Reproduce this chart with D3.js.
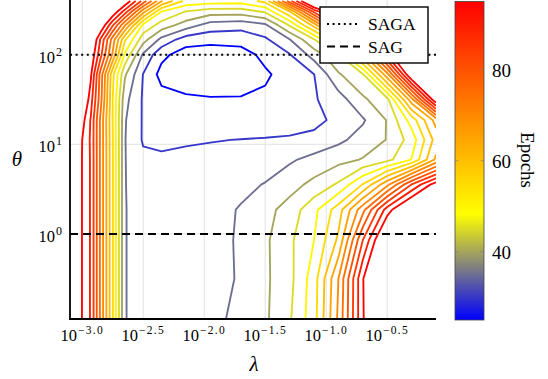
<!DOCTYPE html>
<html>
<head>
<meta charset="utf-8">
<script src="https://cdn.jsdelivr.net/npm/d3@7"></script>
<style>
  body { margin: 0; background: #fff; }
  svg { display: block; }
  text { font-family: "Liberation Serif", "DejaVu Serif", serif; fill: #000; }
</style>
</head>
<body>
<svg id="chart" width="548" height="379"></svg>
<script>
// grid of the run: log10(lambda) columns, log10(theta) rows (top row = largest theta)
const lambdaExp = [-3.1, -3.0, -2.93, -2.85, -2.75, -2.65, -2.5, -2.35, -2.15, -1.95, -1.7, -1.5, -1.3, -1.1, -0.9, -0.7, -0.5, -0.3, -0.1];
const thetaExp = [2.6, 2.48, 2.33, 2.17, 2.0, 1.78, 1.5, 1.27, 1.05, 0.83, 0.55, 0.27, -0.07, -0.5, -0.95];

// epochs needed, one row per theta value
const epochs = [
  [150, 135, 125, 115, 107, 100, 83, 65.5, 53.5, 52.5, 52, 56.5, 83, 108, 122, 134, 145, 155, 165],
  [135, 118, 110, 104, 99.5, 87.5, 66.7, 49.7, 44.7, 42.3, 42.3, 45.6, 59.3, 85.9, 104, 117, 129, 139, 150],
  [125, 116, 110, 100.5, 85.6, 70.4, 48.8, 42.9, 37.7, 32.8, 31.8, 34, 45.5, 61.8, 87.3, 108, 123, 136, 147],
  [128, 113, 103, 89.5, 72.6, 55.8, 42.1, 33.6, 27.5, 26.7, 26.9, 29.2, 34.8, 44.7, 61, 89.7, 110, 124, 136],
  [125, 110, 99.5, 86.7, 69.2, 49.1, 34.2, 26.3, 22.5, 21.8, 22.8, 26.4, 29.7, 37.1, 44.6, 64.2, 91.6, 112, 128],
  [125, 107, 96, 78.1, 56.3, 40.7, 29.8, 23.3, 21.3, 20.8, 21.5, 24.2, 27.3, 29.9, 39.4, 44.5, 68.3, 102, 118],
  [118, 102, 92.3, 77, 55, 36.6, 29.4, 27, 26, 25.5, 25.5, 26, 27.5, 29.5, 32.7, 39.1, 43.5, 68, 100],
  [108, 97, 89.6, 74, 54.8, 35.4, 29.5, 28, 27.5, 27, 27, 27.5, 27.8, 28.5, 31.4, 34.4, 40.3, 52.2, 67],
  [106, 95, 89.3, 74, 55.2, 35.2, 29.5, 29, 29.5, 29.8, 30.1, 30.3, 30.6, 31.5, 33.9, 37, 40.2, 47.2, 62],
  [105, 94.8, 89.5, 74, 55.3, 35.2, 31, 30.7, 31, 31.2, 31.8, 33, 34.3, 36.5, 38.4, 40.3, 43.4, 50.2, 66],
  [105, 94.8, 89.5, 74, 55.3, 35.2, 32, 32, 32.5, 33, 34, 35.2, 38.1, 41.4, 45.8, 55.3, 68.8, 85.3, 98],
  [105, 94.8, 89.5, 74, 55.3, 35.2, 33, 33, 33.3, 33.5, 35.3, 38.4, 42, 48.6, 57.6, 73.3, 92.5, 105, 112],
  [105, 94.8, 89.5, 74, 55.3, 35.2, 33, 33, 33.3, 33.5, 35.5, 39.1, 44, 50, 61, 85, 105, 112, 118],
  [105, 94.8, 89.5, 74, 55.3, 35.2, 33, 33, 33.3, 33.5, 35.4, 39.1, 43.5, 52.6, 70, 94.7, 108, 116, 122],
  [105, 94.8, 89.5, 74, 55.3, 35.2, 33, 33, 33, 33.2, 36.7, 39.2, 44.4, 53, 71, 94.5, 108, 116, 122]
];

const levels = [25, 30, 35, 40, 45, 50, 55, 60, 65, 70, 75, 80, 85, 90, 95];
const epochRange = [25, 95];
const xTickExp = [-3.0, -2.5, -2.0, -1.5, -1.0, -0.5];
const yTickExp = [0, 1, 2];
const cbTicks = [40, 60, 80];
const refNames = ["SAGA", "SAG"];
const refTheta = [100, 1];

const svg = d3.select("#chart");
const L = 70, R = 436, T = 1, B = 319;

const x = d3.scaleLog().domain([10 ** -3.1, 10 ** -0.1]).range([L, R]);
const y = d3.scaleLog().domain([10 ** -0.95, 10 ** 2.6]).range([B, T]);

// blue -> gray -> yellow -> red
const color = d3.scaleLinear()
  .domain([25, 36.67, 48.33, 95])
  .range(["#0000ff", "#808080", "#ffff00", "#ff0000"]);

svg.append("defs").append("clipPath").attr("id", "plotclip")
  .append("rect").attr("x", L).attr("y", 0).attr("width", R - L).attr("height", B);

// grid
const grid = svg.append("g").attr("stroke", "#dcdcdc").attr("stroke-width", 0.8);
grid.selectAll(".vg").data(xTickExp).join("line")
  .attr("x1", d => x(10 ** d)).attr("x2", d => x(10 ** d))
  .attr("y1", 0).attr("y2", B);
grid.selectAll(".hg").data(yTickExp).join("line")
  .attr("x1", L).attr("x2", R)
  .attr("y1", d => y(10 ** d)).attr("y2", d => y(10 ** d));

// contour lines
const nx = lambdaExp.length, ny = thetaExp.length;
const gx = d3.scaleLinear().domain(lambdaExp.map((_, i) => i + 0.5)).range(lambdaExp);
const gy = d3.scaleLinear().domain(thetaExp.map((_, i) => i + 0.5)).range(thetaExp);
const toPx = p => [x(10 ** gx(p[0])), y(10 ** gy(p[1]))];

function inside(p) {
  const e = 1e-9;
  return p[0] >= 0.5 - e && p[0] <= nx - 0.5 + e && p[1] >= 0.5 - e && p[1] <= ny - 0.5 + e;
}

// d3.contours closes rings along the grid border, drop those parts
function splitRing(ring) {
  const parts = [];
  let cur = null;
  for (let k = 1; k < ring.length; k++) {
    const a = ring[k - 1], b = ring[k];
    if (inside(a) && inside(b)) {
      if (!cur) { cur = [a]; parts.push(cur); }
      cur.push(b);
    } else {
      cur = null;
    }
  }
  if (parts.length > 1 && parts[0][0] === ring[0]) {
    const last = parts[parts.length - 1];
    if (last[last.length - 1] === ring[ring.length - 1]) {
      parts[0] = last.concat(parts[0].slice(1));
      parts.pop();
    }
  }
  return parts;
}

const contours = d3.contours().size([nx, ny]).thresholds(levels)(epochs.flat());
const line = d3.line();
const cg = svg.append("g").attr("clip-path", "url(#plotclip)")
  .attr("fill", "none").attr("stroke-width", 1.85).attr("stroke-linejoin", "round");

contours.forEach(c => {
  c.coordinates.forEach(poly => poly.forEach(ring => {
    splitRing(ring).forEach(part => {
      cg.append("path")
        .attr("d", line(part.map(toPx)))
        .attr("stroke", color(c.value));
    });
  }));
});

// SAGA / SAG reference lines
const dashes = ["2 3.6", "8 5"];
svg.append("g").selectAll("line").data(refTheta).join("line")
  .attr("x1", L).attr("x2", R)
  .attr("y1", d => y(d)).attr("y2", d => y(d))
  .attr("stroke", "#000").attr("stroke-width", 2)
  .attr("stroke-dasharray", (d, i) => dashes[i]);

// axes lines
svg.append("line").attr("x1", L).attr("x2", L).attr("y1", 0).attr("y2", B + 1)
  .attr("stroke", "#000").attr("stroke-width", 1.8);
svg.append("line").attr("x1", L - 0.9).attr("x2", R).attr("y1", B).attr("y2", B)
  .attr("stroke", "#000").attr("stroke-width", 1.8);

// tick labels
const xt = svg.append("g").selectAll("text").data(xTickExp).join("text")
  .attr("x", d => x(10 ** d)).attr("y", 341)
  .attr("text-anchor", "middle").attr("font-size", 16.5);
xt.append("tspan").text("10");
xt.append("tspan").attr("dx", 1).attr("dy", -7).attr("font-size", 11.5)
  .attr("letter-spacing", 1.3)
  .text(d => "\u2212" + Math.abs(d).toFixed(1));

const yt = svg.append("g").selectAll("text").data(yTickExp).join("text")
  .attr("x", 62).attr("y", d => y(10 ** d) + 8)
  .attr("text-anchor", "end").attr("font-size", 16.5);
yt.append("tspan").text("10");
yt.append("tspan").attr("dx", 1).attr("dy", -7).attr("font-size", 12).text(d => d);

// axis labels
svg.append("text").attr("x", 254).attr("y", 371).attr("text-anchor", "middle")
  .attr("font-size", 21).attr("font-style", "italic").text("\u03bb");
svg.append("text").attr("x", 17).attr("y", 166)
  .attr("text-anchor", "middle").attr("font-size", 21).attr("font-style", "italic").text("\u03b8");

// legend
const lg = svg.append("g");
lg.append("rect").attr("x", 320).attr("y", 7).attr("width", 108).attr("height", 56)
  .attr("fill", "#fff").attr("stroke", "#000").attr("stroke-width", 1.4);
refNames.forEach((name, i) => {
  const yy = 24 + i * 22.5;
  lg.append("line").attr("x1", 327).attr("x2", 360).attr("y1", yy).attr("y2", yy)
    .attr("stroke", "#000").attr("stroke-width", 2).attr("stroke-dasharray", dashes[i]);
  lg.append("text").attr("x", 368).attr("y", yy + 6).attr("font-size", 17.5).text(name);
});

// colorbar
const cbX = 455, cbW = 29, cbTop = 1.5, cbBottom = 320;
const cb = d3.scaleLinear().domain(epochRange).range([cbBottom, cbTop]);
const grad = svg.select("defs").append("linearGradient").attr("id", "cbgrad")
  .attr("x1", 0).attr("y1", 1).attr("x2", 0).attr("y2", 0);
grad.selectAll("stop").data(color.domain()).join("stop")
  .attr("offset", d => (d - epochRange[0]) / (epochRange[1] - epochRange[0]))
  .attr("stop-color", d => color(d));
svg.append("rect").attr("x", cbX).attr("y", cbTop).attr("width", cbW).attr("height", cbBottom - cbTop)
  .attr("fill", "url(#cbgrad)").attr("stroke", "#444").attr("stroke-width", 0.8);
const cbt = svg.append("g").attr("stroke", "#777").attr("stroke-width", 0.6);
cbTicks.forEach(v => {
  cbt.append("line").attr("x1", cbX).attr("x2", cbX + 3.5).attr("y1", cb(v)).attr("y2", cb(v));
  cbt.append("line").attr("x1", cbX + cbW - 3.5).attr("x2", cbX + cbW).attr("y1", cb(v)).attr("y2", cb(v));
});
svg.append("g").selectAll("text").data(cbTicks).join("text")
  .attr("x", 492).attr("y", d => cb(d) + 7).attr("font-size", 19).text(d => d);
svg.append("text").attr("transform", "translate(521,160) rotate(90)")
  .attr("text-anchor", "middle").attr("font-size", 19).text("Epochs");
</script>
</body>
</html>
